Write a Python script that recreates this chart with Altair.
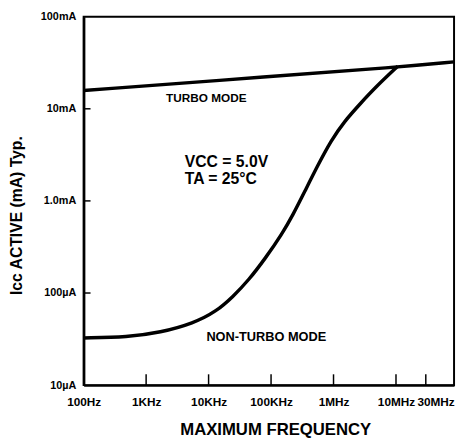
import altair as alt
import pandas as pd

# ---- data ----
turbo_freq = [100, 1.16e5, 1e7, 8.5e7]
turbo_icc = [15.8e-3, 22.6e-3, 28.2e-3, 32.3e-3]

nonturbo_freq = [100, 510, 1680, 5770, 13300, 24500, 43800, 81100, 150000,
                 223000, 345000, 552000, 916000, 1.47e6, 2.72e6, 4.85e6, 1.07e7]
nonturbo_icc = [32.5e-6, 33.3e-6, 37.2e-6, 47.0e-6, 63.1e-6, 91.2e-6, 138e-6, 238e-6,
                439e-6, 700e-6, 1.26e-3, 2.39e-3, 4.53e-3, 7.22e-3, 11.5e-3, 17.5e-3,
                29.0e-3]

x_tick_values = [100, 1e3, 1e4, 1e5, 1e6, 1e7, 3e7]
x_tick_labels = ["100Hz", "1KHz", "10KHz", "100KHz", "1MHz", "10MHz", "30MHz"]
x_inner_ticks = [1e3, 1e4, 1e5, 1e6, 1e7, 3e7]

y_tick_values = [1e-5, 1e-4, 1e-3, 1e-2, 1e-1]
y_tick_labels = ["10\u00b5A", "100\u00b5A", "1.0mA", "10mA", "100mA"]
y_inner_ticks = [1e-4, 1e-3, 1e-2]

ann_text = ["TURBO MODE", "NON-TURBO MODE"]
ann_freq = [9.2e3, 8.4e4]
ann_icc = [13.0e-3, 33e-6]
ann_size = [12, 13]

cond_text = ["VCC = 5.0V", "TA = 25\u00b0C"]
cond_freq = [4.16e3, 4.16e3]
cond_icc = [2.33e-3, 1.54e-3]

X_DOMAIN = [100, 8.5e7]
Y_DOMAIN = [1e-5, 1e-1]
FONT = "Liberation Sans, Arial, Helvetica, sans-serif"

# ---- tables ----
lines = pd.concat([
    pd.DataFrame({"freq": turbo_freq, "icc": turbo_icc, "mode": "turbo"}),
    pd.DataFrame({"freq": nonturbo_freq, "icc": nonturbo_icc, "mode": "nonturbo"}),
])
ann = pd.DataFrame({"text": ann_text, "freq": ann_freq, "icc": ann_icc, "size": ann_size})
cond = pd.DataFrame({"text": cond_text, "freq": cond_freq, "icc": cond_icc})
xt = pd.DataFrame({"freq": x_inner_ticks})
yt = pd.DataFrame({"icc": y_inner_ticks})


def label_expr(values, labels):
    expr = "''"
    for v, l in reversed(list(zip(values, labels))):
        expr = f"datum.value <= {v * 1.5} ? '{l}' : ({expr})"
    return expr


xscale = alt.Scale(type="log", domain=X_DOMAIN, nice=False)
yscale = alt.Scale(type="log", domain=Y_DOMAIN, nice=False)

xaxis = alt.Axis(
    values=x_tick_values, labelExpr=label_expr(x_tick_values, x_tick_labels),
    title="MAXIMUM FREQUENCY", ticks=False, tickSize=0, grid=False,
    domainColor="black", domainWidth=2.5, labelFont=FONT, labelFontSize=12,
    labelFontWeight="bold", labelColor="black", labelPadding=12, labelFlush=False,
    labelOverlap=False,
    labelOffset={"condition": {"test": "datum.value > 2e7", "value": 10}, "value": 0},
    titleFont=FONT, titleFontSize=17, titleFontWeight="bold", titleColor="black",
    titleX=195, titleY=37,
)
yaxis = alt.Axis(
    values=y_tick_values, labelExpr=label_expr(y_tick_values, y_tick_labels),
    title="Icc ACTIVE (mA) Typ.", ticks=False, tickSize=0, grid=False,
    domainColor="black", domainWidth=2.5, labelFont=FONT, labelFontSize=11,
    labelFontWeight="bold", labelColor="black", labelPadding=8, labelFlush=False,
    labelOverlap=False,
    titleFont=FONT, titleFontSize=16, titleFontWeight="bold", titleColor="black",
    titleX=-60, titleY=202,
)

curves = alt.Chart(lines).mark_line(
    color="black", strokeWidth=3.5, interpolate="basis", clip=True
).encode(
    x=alt.X("freq:Q", scale=xscale, axis=xaxis),
    y=alt.Y("icc:Q", scale=yscale, axis=yaxis),
    detail="mode:N",
)

xticks = alt.Chart(xt).mark_rule(color="black", strokeWidth=1.5).encode(
    x=alt.X("freq:Q", scale=xscale),
    y=alt.value(375), y2=alt.value(364),
)
yticks = alt.Chart(yt).mark_rule(color="black", strokeWidth=1.5).encode(
    y=alt.Y("icc:Q", scale=yscale),
    x=alt.value(0), x2=alt.value(7),
)

ann_marks = alt.Chart(ann).mark_text(
    font=FONT, fontWeight="bold", color="black", align="center", baseline="middle"
).encode(
    x=alt.X("freq:Q", scale=xscale),
    y=alt.Y("icc:Q", scale=yscale),
    text="text:N",
    size=alt.Size("size:Q", scale=None, legend=None),
)

cond_marks = alt.Chart(cond).mark_text(
    font=FONT, fontWeight="bold", color="black", align="left",
    baseline="alphabetic", fontSize=16
).encode(
    x=alt.X("freq:Q", scale=xscale),
    y=alt.Y("icc:Q", scale=yscale),
    text="text:N",
)

chart = alt.layer(curves, xticks, yticks, ann_marks, cond_marks).properties(
    width=377, height=375,
    autosize=alt.AutoSizeParams(type="none"),
    padding={"left": 77, "top": 5, "right": 3, "bottom": 51},
    background="white",
).configure_view(stroke="black", strokeWidth=2)

chart.save("out.html", embed_options={"renderer": "svg", "actions": False})
